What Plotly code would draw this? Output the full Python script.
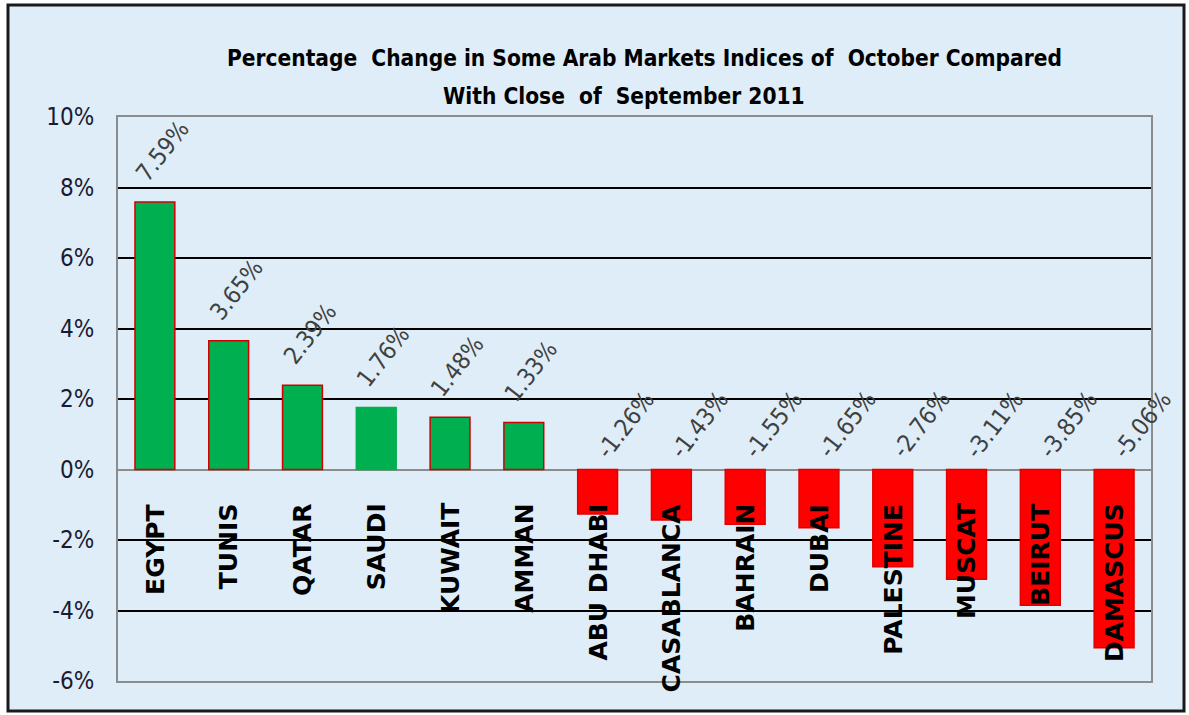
import plotly.graph_objects as go

categories = ["EGYPT", "TUNIS", "QATAR", "SAUDI", "KUWAIT", "AMMAN", "ABU DHABI",
              "CASABLANCA", "BAHRAIN", "DUBAI", "PALESTINE", "MUSCAT", "BEIRUT", "DAMASCUS"]
values = [7.59, 3.65, 2.39, 1.76, 1.48, 1.33, -1.26, -1.43, -1.55, -1.65, -2.76, -3.11, -3.85, -5.06]
y_ticks = [-6, -4, -2, 0, 2, 4, 6, 8, 10]
y_tick_labels = ["-6%", "-4%", "-2%", "0%", "2%", "4%", "6%", "8%", "10%"]
title_line1 = "Percentage\u00a0 Change in Some Arab Markets Indices of\u00a0 October Compared"
title_line2 = "With Close\u00a0 of\u00a0 September 2011"

GREEN = "#00b050"
RED = "#ff0000"
BG = "#deedf7"
TXT_FONT = "Tahoma, 'DejaVu Sans Condensed', 'Liberation Sans Narrow', 'DejaVu Sans', sans-serif"

fill_colors = [GREEN if v >= 0 else RED for v in values]
line_colors = []
for c, v in zip(categories, values):
    if v < 0:
        line_colors.append("#e00000")
    elif c == "SAUDI":
        line_colors.append(GREEN)
    else:
        line_colors.append("#d00000")

fig = go.Figure(go.Bar(
    x=categories, y=values,
    marker=dict(color=fill_colors, line=dict(color=line_colors, width=1.5)),
    hoverinfo="skip",
))

annotations = []
# category labels (vertical, just below the zero line)
for c in categories:
    annotations.append(dict(
        x=c, y=0, xref="x", yref="y", text=c, showarrow=False, textangle=-90,
        xanchor="center", yanchor="top", yshift=-33, borderpad=0,
        font=dict(family="'DejaVu Sans', Verdana, sans-serif", size=25, color="#000000", weight="bold"),
    ))
# value labels (rotated)
for c, v in zip(categories, values):
    if v >= 0:
        annotations.append(dict(
            x=c, y=v, xref="x", yref="y", text=f"{v:.2f}%", showarrow=False, textangle=-52,
            xanchor="left", yanchor="bottom", xshift=-26, yshift=14, borderpad=0,
            font=dict(family=TXT_FONT, size=24, color="#404040"),
        ))
    else:
        annotations.append(dict(
            x=c, y=0, xref="x", yref="y", text=f"{v:.2f}%", showarrow=False, textangle=-52,
            xanchor="left", yanchor="bottom", xshift=-8, yshift=5, borderpad=0,
            font=dict(family=TXT_FONT, size=24, color="#404040"),
        ))
# title lines
annotations.append(dict(
    x=0.51, y=58, xref="paper", yref="paper", text=title_line1, showarrow=False,
    xanchor="center", yanchor="middle", font=dict(family=TXT_FONT, size=22.5, color="#000000", weight="bold"),
))
annotations.append(dict(
    x=0.49, y=96, xref="paper", yref="paper", text=title_line2, showarrow=False,
    xanchor="center", yanchor="middle", font=dict(family=TXT_FONT, size=22.5, color="#000000", weight="bold"),
))

H = 715
W = 1189
ml, mr, mt, mb = 118, 38, 117, 34
pw = W - ml - mr
ph = H - mt - mb
# convert title pixel y to paper coordinates
for a in annotations[-2:]:
    a["y"] = (H - mb - a["y"]) / ph

fig.update_layout(
    width=W, height=H,
    margin=dict(l=ml, r=mr, t=mt, b=mb),
    paper_bgcolor="#ffffff",
    plot_bgcolor="rgba(0,0,0,0)",
    showlegend=False,
    bargap=0.46,
    annotations=annotations,
    shapes=[dict(
        type="rect", xref="paper", yref="paper", layer="below",
        x0=(8 - ml) / pw, x1=(1184 - ml) / pw,
        y0=(H - mb - 711) / ph, y1=(H - mb - 5) / ph,
        fillcolor=BG, line=dict(color="#1a1a1a", width=3),
    )],
    xaxis=dict(
        range=[-0.5, len(categories) - 0.5],
        showticklabels=False, showgrid=False, zeroline=False,
        showline=True, linecolor="#8c8c8c", linewidth=2, mirror=True,
        ticks="",
    ),
    yaxis=dict(
        range=[-6, 10], tickvals=y_ticks, ticktext=y_tick_labels,
        showgrid=True, gridcolor="#000000", gridwidth=2,
        zeroline=True, zerolinecolor="#8c8c8c", zerolinewidth=2,
        showline=True, linecolor="#8c8c8c", linewidth=2, mirror=True,
        ticks="", ticklabelstandoff=17,
        tickfont=dict(family=TXT_FONT, size=24, color="#1a1a33"),
    ),
)

fig.write_html("out.html", config={"displayModeBar": False},
               post_script="document.body.style.margin='0';document.body.style.padding='0';")
